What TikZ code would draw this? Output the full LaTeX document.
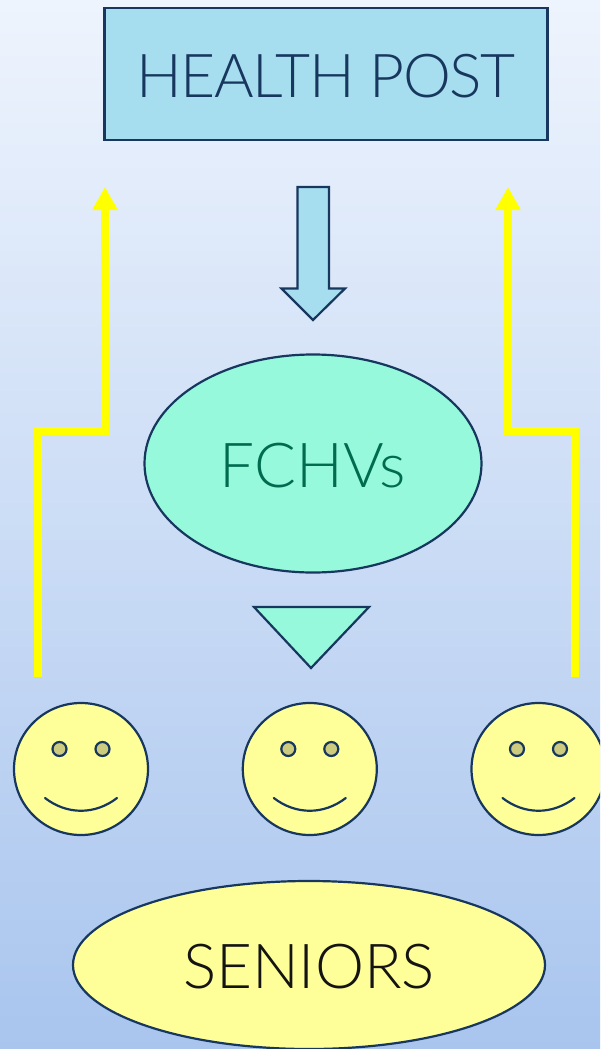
\documentclass[tikz,border=0pt]{standalone}
\usepackage{fontspec}
\setmainfont{Lato Light}
\usetikzlibrary{arrows.meta,shapes.geometric}
\definecolor{navy}{HTML}{17375E}
\definecolor{skyfill}{HTML}{A6DEEF}
\definecolor{mint}{HTML}{96F9DC}
\definecolor{paleyellow}{HTML}{FFFF99}
\definecolor{eyefill}{HTML}{CDCB7E}
\definecolor{routeyellow}{HTML}{FFFF00}
\definecolor{bgtop}{HTML}{EEF4FD}
\definecolor{bgbottom}{HTML}{A9C5EE}
\definecolor{fchvtext}{HTML}{006B4F}
\definecolor{seniortext}{HTML}{141414}
\tikzset{
  outline/.style={draw=navy,line width=2.2pt,line join=miter},
  ovalbox/.style={outline,shape=ellipse,inner sep=0pt,outer sep=0pt},
  textpos/.style={text height=47pt,text depth=0pt},
  bigtext/.style={textpos,font=\fontsize{62}{62}\selectfont},
  face/.style={ovalbox,fill=paleyellow,minimum width=134pt,minimum height=132pt},
  eye/.style={ovalbox,fill=eyefill,minimum width=14pt,minimum height=14pt},
  smile/.style={draw=navy,line width=2.2pt,line cap=round},
  yellowroute/.style={draw=routeyellow,line width=8pt,line join=miter,-{Triangle[width=24pt,length=23pt]}},
}
\begin{document}
\begin{tikzpicture}[x=1pt,y=-1pt]
\useasboundingbox (0,0) rectangle (600,1049);
\clip (0,0) rectangle (600,1049);
\shade[top color=bgtop,bottom color=bgbottom] (0,0) rectangle (600,1049);
% boxes
\node[outline,fill=skyfill,minimum width=443pt,minimum height=132pt,inner sep=0pt,text=navy,textpos,font=\fontsize{60.5}{60.5}\selectfont\addfontfeature{LetterSpace=-2.5}] (post) at (326,74) {HEALTH POST};
\node[ovalbox,fill=mint,minimum width=337pt,minimum height=218pt,text=fchvtext,bigtext] (fchv) at (313,463.5) {FCHVs};
\node[ovalbox,fill=paleyellow,minimum width=472pt,minimum height=168pt,text=seniortext,bigtext] (seniors) at (309,965) {SENIORS};
% block arrow and triangle
\draw[outline,fill=skyfill] (297.5,187) -- (329,187) -- (329,288.5) -- (345,288.5) -- (313,320) -- (281.5,288.5) -- (297.5,288.5) -- cycle;
\draw[outline,fill=mint] (254,607) -- (369,607) -- (311,668) -- cycle;
% faces
\foreach \n/\cx in {a/81,b/309.8,c/538.5}{
  \node[face] (face\n) at (\cx,769) {};
  \node[eye] (eyeL\n) at ([xshift=-21.5pt,yshift=20pt]face\n.center) {};
  \node[eye] (eyeR\n) at ([xshift=21.5pt,yshift=20pt]face\n.center) {};
  \coordinate (smileL\n) at ([xshift=-36pt,yshift=-29pt]face\n.center);
  \coordinate (smileR\n) at ([xshift=36pt,yshift=-29pt]face\n.center);
  \coordinate (smileLa\n) at ([xshift=-14pt,yshift=-46pt]face\n.center);
  \coordinate (smileRa\n) at ([xshift=14pt,yshift=-46pt]face\n.center);
  \draw[smile] (smileL\n) .. controls (smileLa\n) and (smileRa\n) .. (smileR\n);
}
% yellow routes
\coordinate (lstart) at (37.5,677);
\coordinate (ltip) at (105,187);
\coordinate (rstart) at (575,677);
\coordinate (rtip) at (508,187);
\draw[yellowroute] (lstart) |- (105,431) -- (ltip);
\draw[yellowroute] (rstart) |- (508,431) -- (rtip);
\end{tikzpicture}
\end{document}
